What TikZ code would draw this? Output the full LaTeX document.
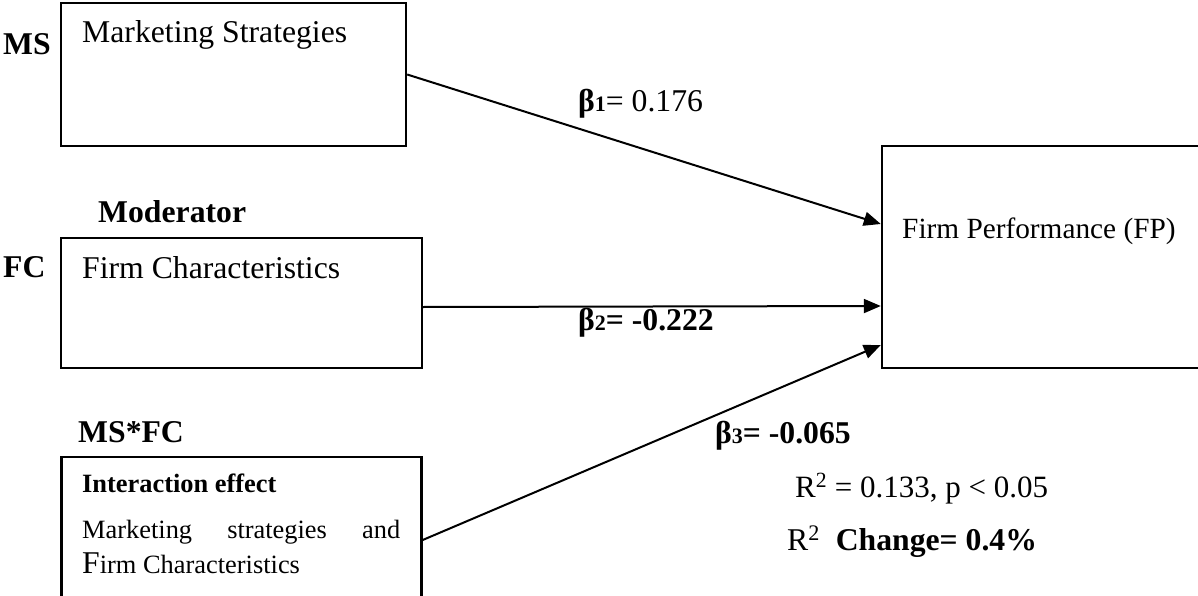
\documentclass[tikz,border=0pt]{standalone}
\usepackage{fontspec}
\setmainfont{Liberation Serif}
\usetikzlibrary{arrows.meta}
\newcommand{\bigtxt}{\fontsize{31.7}{38}\selectfont}
\newcommand{\midtxt}{\fontsize{29.3}{35}\selectfont}
\newcommand{\smalltxt}{\fontsize{26.4}{32}\selectfont}
\newcommand{\subdig}[1]{{\fontsize{22}{22}\selectfont #1}}
\begin{document}
\begin{tikzpicture}[x=1pt,y=-1pt,
  box/.style={draw,line width=2.4pt,rectangle,inner sep=0pt},
  lbl/.style={inner sep=0pt,anchor=base west,font=\bigtxt},
  link/.style={line width=2pt,-{Triangle[length=17pt,width=14pt]}}]
\useasboundingbox (0,0) rectangle (1198,596);

% boxes
\node[box,minimum width=345pt,minimum height=143pt] (ms) at (233.5,74.5) {};
\node[box,minimum width=361pt,minimum height=130pt] (fc) at (241.5,303) {};
\node[box,minimum width=360pt,minimum height=141pt] (ia) at (241.5,527.5) {};
\node[box,minimum width=319pt,minimum height=222pt] (fp) at (1041.5,257) {};

% box texts
\node[lbl] (mstxt) at (82,43) {Marketing Strategies};
\node[lbl] (fctxt) at (82,278) {Firm Characteristics};
\node[lbl,font=\smalltxt\bfseries] (iahead) at (82,492) {Interaction effect};
\node[lbl,font=\smalltxt] (iatxt1) at (82,538) {\makebox[318pt][s]{Marketing\hfill strategies\hfill and}};
\node[lbl,font=\smalltxt] (iatxt2) at (82,573) {{\bigtxt F}irm Characteristics};
\node[lbl,font=\midtxt] (fptxt) at (902,238) {Firm Performance (FP)};

% side labels
\node[lbl,font=\bigtxt\bfseries] (mslbl) at (3,55) {MS};
\node[lbl,font=\bigtxt\bfseries] (fclbl) at (3,277) {FC};
\node[lbl,font=\bigtxt\bfseries] (modlbl) at (98,222) {Moderator};
\node[lbl,font=\bigtxt\bfseries] (iallbl) at (78,442) {MS*FC};

% paths
\coordinate (fcout) at ([yshift=-4pt]fc.east);
\coordinate (iaout) at ([yshift=-12.5pt]ia.east);
\coordinate (fpin1) at ([yshift=33pt]fp.west);
\coordinate (fpin2) at ([yshift=-49pt]fp.west);
\coordinate (fpin3) at ([yshift=-88pt]fp.west);
\draw[link] (ms.east) -- (fpin1);
\draw[link] (fcout) -- (fpin2);
\draw[link] (iaout) -- (fpin3);

% coefficients
\node[lbl] (b1) at (578,112) {\textbf{β\subdig{1}}= 0.176};
\node[lbl,font=\bigtxt\bfseries] (b2) at (578,330) {β\subdig{2}= -0.222};
\node[lbl,font=\bigtxt\bfseries] (b3) at (715,443) {β\subdig{3}= -0.065};
\node[lbl,font=\fontsize{31}{37}\selectfont] (r2) at (795,497) {R\textsuperscript{2} = 0.133, p < 0.05};
\node[lbl] (r2c) at (787,550) {R\textsuperscript{2}\ \ \textbf{Change= 0.4\%}};
\end{tikzpicture}
\end{document}
